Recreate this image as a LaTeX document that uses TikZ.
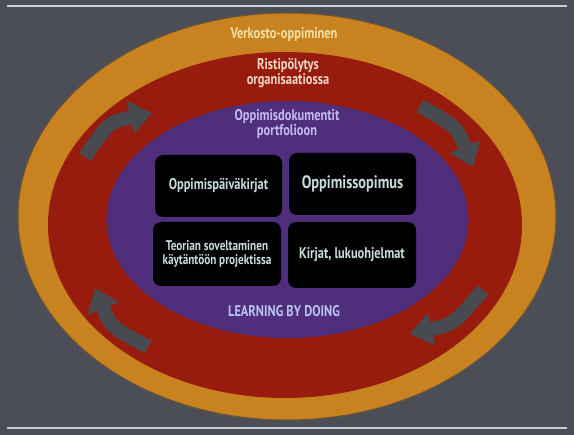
\documentclass[tikz,border=0pt]{standalone}
\usepackage{fontspec}
\setmainfont{PT Sans}
\newfontfamily\cond[FakeStretch=0.8]{PT Sans}
\usetikzlibrary{arrows.meta}
\definecolor{bgc}{HTML}{4B4E57}
\definecolor{linec}{HTML}{C9CED6}
\definecolor{orangec}{HTML}{C8821F}
\definecolor{orangeedge}{HTML}{6E5634}
\definecolor{redc}{HTML}{981C0E}
\definecolor{purplec}{HTML}{4F2E7C}
\definecolor{arrowc}{HTML}{474B50}
\definecolor{creamtxt}{HTML}{F2E2A8}
\definecolor{pinktxt}{HTML}{F0D8C8}
\definecolor{lavtxt}{HTML}{C4BCF2}
\definecolor{bluetxt}{HTML}{B8C4F0}
\definecolor{boxtxt}{HTML}{C8DCE0}
\tikzset{
  boxnode/.style={fill=black, rounded corners=8pt, inner sep=0pt, align=center,
    text=boxtxt, font=\cond\bfseries\fontsize{15.5}{16}\selectfont},
  ringlabel/.style={inner sep=0pt, align=center, font=\cond\bfseries\fontsize{15.5}{14.5}\selectfont},
  cyclearrow/.style={draw=arrowc, line width=14pt,
    -{Triangle[width=32pt,length=22pt]}, fill=none},
  rule/.style={draw=linec, line width=1.5pt}
}
\begin{document}
\begin{tikzpicture}[x=1pt,y=-1pt]
\useasboundingbox (0,0) rectangle (574,435);
\fill[bgc] (0,0) rectangle (574,435);
\coordinate (tl) at (7,6);
\coordinate (tr) at (567,6);
\coordinate (bl) at (7,428);
\coordinate (br) at (567,428);
\draw[rule] (tl) -- (tr);
\draw[rule] (bl) -- (br);
% rings
\fill[orangec, draw=orangeedge, line width=1pt] (287,216.5) ellipse [x radius=269, y radius=203.5];
\fill[redc] (285,225) ellipse [x radius=237, y radius=173];
\fill[purplec] (287.5,219.5) ellipse [x radius=181, y radius=118.5];
% ring labels
\node[ringlabel, text=creamtxt] (verk) at (284,35) {Verkosto-oppiminen};
\node[ringlabel, text=pinktxt] (risti) at (288,73) {Ristipölytys\\organisaatiossa};
\node[ringlabel, text=lavtxt] (dok) at (287,124) {Oppimisdokumentit\\portfolioon};
\node[ringlabel, text=bluetxt] (lbd) at (284,311) {LEARNING BY DOING};
% boxes
\node[boxnode, minimum width=127pt, minimum height=62pt] (b1) at (218.5,186) {Oppimispäiväkirjat};
\node[boxnode, minimum width=127pt, minimum height=62pt, font=\cond\bfseries\fontsize{18}{19}\selectfont] (b2) at (352.5,184) {Oppimissopimus};
\node[boxnode, minimum width=128pt, minimum height=64pt, font=\cond\bfseries\fontsize{14}{13.5}\selectfont] (b3) at (217,254) {Teorian soveltaminen\\käytäntöön projektissa};
\node[boxnode, minimum width=128pt, minimum height=66pt] (b4) at (352,255) {Kirjat, lukuohjelmat};
% cycle arrows
\coordinate (a1s) at (85,157);
\coordinate (a1e) at (152,113);
\coordinate (a2s) at (420,106);
\coordinate (a2e) at (473,167);
\coordinate (a3s) at (483,290);
\coordinate (a3e) at (410,334);
\coordinate (a4s) at (148,347);
\coordinate (a4e) at (95,288);
\draw[cyclearrow] (a1s) .. controls (109,122) .. (a1e);
\draw[cyclearrow] (a2s) .. controls (457,127) .. (a2e);
\draw[cyclearrow] (a3s) .. controls (454,324) .. (a3e);
\draw[cyclearrow] (a4s) .. controls (111,327) .. (a4e);
\end{tikzpicture}
\end{document}
